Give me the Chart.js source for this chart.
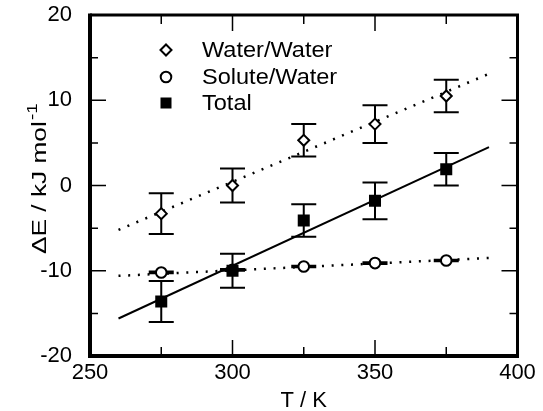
<!DOCTYPE html>
<html>
<head>
<meta charset="utf-8">
<script src="https://cdn.jsdelivr.net/npm/chart.js@4.4.0/dist/chart.umd.min.js"></script>
<style>
  html, body { margin: 0; padding: 0; background: #fff; }
</style>
</head>
<body>
<canvas id="chart" width="543" height="411"></canvas>
<script>
// values
const temps = [275, 300, 325, 350, 375];
const waterWater = [-3.3, 0.0, 5.3, 7.2, 10.5];
const waterWaterErr = [2.4, 2.0, 1.9, 2.2, 1.9];
const soluteWater = [-10.2, -9.9, -9.5, -9.1, -8.8];
const soluteWaterErr = [0.1, 0.1, 0.1, 0.1, 0.1];
const total = [-13.6, -10.0, -4.1, -1.8, 1.9];
const totalErr = [2.4, 2.0, 1.9, 2.15, 1.9];

// fitted lines (end points)
const fitT = [260, 390];
const fitWater = [-5.2, 13.1];
const fitSolute = [-10.6, -8.5];
const fitTotal = [-15.6, 4.5];

const xMinorTicks = [275, 325, 375];
const yMinorTicks = [-15, -5, 5, 15];
const seriesNames = ["Water/Water", "Solute/Water", "Total"];

const FONT = "'Liberation Sans', Arial, sans-serif";
Chart.defaults.font.family = FONT;
Chart.defaults.font.size = 22;
Chart.defaults.color = "#000";

const pts = (xs, ys) => xs.map((x, i) => ({ x: x, y: ys[i] }));

function marker(ctx, style, x, y) {
  ctx.save();
  ctx.lineWidth = 2;
  ctx.strokeStyle = "#000";
  ctx.beginPath();
  if (style === "rectRot") {
    const r = 5.5;
    ctx.moveTo(x - r, y); ctx.lineTo(x, y - r); ctx.lineTo(x + r, y); ctx.lineTo(x, y + r);
    ctx.closePath();
    ctx.fillStyle = "#fff"; ctx.fill(); ctx.stroke();
  } else if (style === "circle") {
    ctx.arc(x, y, 5.3, 0, Math.PI * 2);
    ctx.fillStyle = "#fff"; ctx.fill(); ctx.stroke();
  } else {
    ctx.fillStyle = "#000";
    ctx.fillRect(x - 5.5, y - 5.5, 11, 11);
  }
  ctx.restore();
}

const decorations = {
  id: "decorations",
  // error bars go under the markers of their own series
  beforeDatasetDraw(chart, args) {
    const ds = chart.data.datasets[args.index];
    if (!ds.errors) return;
    const ctx = chart.ctx, xs = chart.scales.x, ys = chart.scales.y;
    ctx.save();
    ctx.strokeStyle = "#000";
    ctx.lineWidth = 2;
    ds.data.forEach((p, i) => {
      const px = xs.getPixelForValue(p.x);
      const top = ys.getPixelForValue(p.y + ds.errors[i]);
      const bot = ys.getPixelForValue(p.y - ds.errors[i]);
      ctx.beginPath();
      ctx.moveTo(px, top); ctx.lineTo(px, bot);
      ctx.moveTo(px - 12.5, top); ctx.lineTo(px + 12.5, top);
      ctx.moveTo(px - 12.5, bot); ctx.lineTo(px + 12.5, bot);
      ctx.stroke();
    });
    ctx.restore();
  },
  afterDraw(chart) {
    const ctx = chart.ctx, a = chart.chartArea;
    const xs = chart.scales.x, ys = chart.scales.y;
    ctx.save();

    // inward ticks on all four sides
    ctx.strokeStyle = "#000";
    ctx.lineWidth = 1.5;
    const tickX = (v, len) => {
      const px = xs.getPixelForValue(v);
      ctx.moveTo(px, a.bottom); ctx.lineTo(px, a.bottom - len);
      ctx.moveTo(px, a.top); ctx.lineTo(px, a.top + len);
    };
    const tickY = (v, len) => {
      const py = ys.getPixelForValue(v);
      ctx.moveTo(a.left, py); ctx.lineTo(a.left + len, py);
      ctx.moveTo(a.right, py); ctx.lineTo(a.right - len, py);
    };
    ctx.beginPath();
    xs.ticks.forEach(t => tickX(t.value, 16));
    xMinorTicks.forEach(v => tickX(v, 9));
    ys.ticks.forEach(t => tickY(t.value, 16));
    yMinorTicks.forEach(v => tickY(v, 8));
    ctx.stroke();

    // frame
    ctx.lineWidth = 4;
    ctx.beginPath();
    ctx.moveTo(a.left, a.top - 1.5); ctx.lineTo(a.left, a.bottom);
    ctx.lineTo(a.right + 1.5, a.bottom);
    ctx.stroke();
    ctx.lineWidth = 3;
    ctx.beginPath();
    ctx.moveTo(a.left, a.top); ctx.lineTo(a.right, a.top);
    ctx.lineTo(a.right, a.bottom);
    ctx.stroke();

    // legend inside the plot
    const styles = ["rectRot", "circle", "rect"];
    const rows = [50, 77, 103];
    ctx.font = "22px " + FONT;
    ctx.fillStyle = "#000";
    ctx.textBaseline = "middle";
    ctx.textAlign = "left";
    seriesNames.forEach((name, i) => {
      marker(ctx, styles[i], 166, rows[i]);
      ctx.save();
      ctx.translate(202, rows[i] + 1);
      ctx.scale(1.07, 1);
      ctx.fillText(name, 0, 0);
      ctx.restore();
    });

    // axis titles
    ctx.font = "22px " + FONT;
    ctx.textAlign = "center";
    ctx.fillText("T / K", (a.left + a.right) / 2, 401);

    ctx.translate(46, 254);
    ctx.rotate(-Math.PI / 2);
    ctx.scale(1.25, 1);
    ctx.textAlign = "left";
    ctx.textBaseline = "alphabetic";
    ctx.font = "21px " + FONT;
    const main = "\u0394E / kJ mol";
    ctx.fillText(main, 0, 0);
    const w = ctx.measureText(main).width;
    ctx.font = "15px " + FONT;
    ctx.fillText("-1", w + 1, -9);
    ctx.restore();
  }
};

// pin the plot box to the reference frame
const fitX = s => { s.height = 55; s.paddingLeft = 0; s.paddingRight = 0; };
const fitY = s => { s.width = 90; s.paddingTop = 0; s.paddingBottom = 0; };

new Chart(document.getElementById("chart"), {
  type: "scatter",
  data: {
    datasets: [
      {
        label: seriesNames[0], data: pts(temps, waterWater), errors: waterWaterErr, order: 2,
        pointStyle: "rectRot", pointRadius: 5.5, pointBorderWidth: 2,
        pointBackgroundColor: "#fff", pointBorderColor: "#000", showLine: false
      },
      {
        label: seriesNames[1], data: pts(temps, soluteWater), errors: soluteWaterErr, order: 1,
        pointStyle: "circle", pointRadius: 5.3, pointBorderWidth: 2,
        pointBackgroundColor: "#fff", pointBorderColor: "#000", showLine: false
      },
      {
        label: seriesNames[2], data: pts(temps, total), errors: totalErr, order: 0,
        pointStyle: "rect", pointRadius: 8.5, pointBorderWidth: 0,
        pointBackgroundColor: "#000", pointBorderColor: "#000", showLine: false
      },
      {
        label: "fit water", data: pts(fitT, fitWater), order: 3, showLine: true,
        borderColor: "#000", borderWidth: 2.5, borderDash: [2, 7.7], pointRadius: 0
      },
      {
        label: "fit solute", data: pts(fitT, fitSolute), order: 3, showLine: true,
        borderColor: "#000", borderWidth: 2.5, borderDash: [2, 7.7], pointRadius: 0
      },
      {
        label: "fit total", data: pts(fitT, fitTotal), order: 3, showLine: true,
        borderColor: "#000", borderWidth: 2, pointRadius: 0
      }
    ]
  },
  options: {
    responsive: false,
    animation: false,
    devicePixelRatio: 1,
    layout: { padding: { left: 0, right: 25.5, top: 15, bottom: 0 } },
    plugins: { legend: { display: false }, tooltip: { enabled: false } },
    scales: {
      x: {
        type: "linear", min: 250, max: 400,
        ticks: { stepSize: 50, padding: -4, maxRotation: 0 },
        grid: { display: false }, border: { display: false },
        afterFit: fitX
      },
      y: {
        type: "linear", min: -20, max: 20,
        ticks: { stepSize: 10, padding: 10 },
        grid: { display: false }, border: { display: false },
        afterFit: fitY
      }
    }
  },
  plugins: [decorations]
});
</script>
</body>
</html>
